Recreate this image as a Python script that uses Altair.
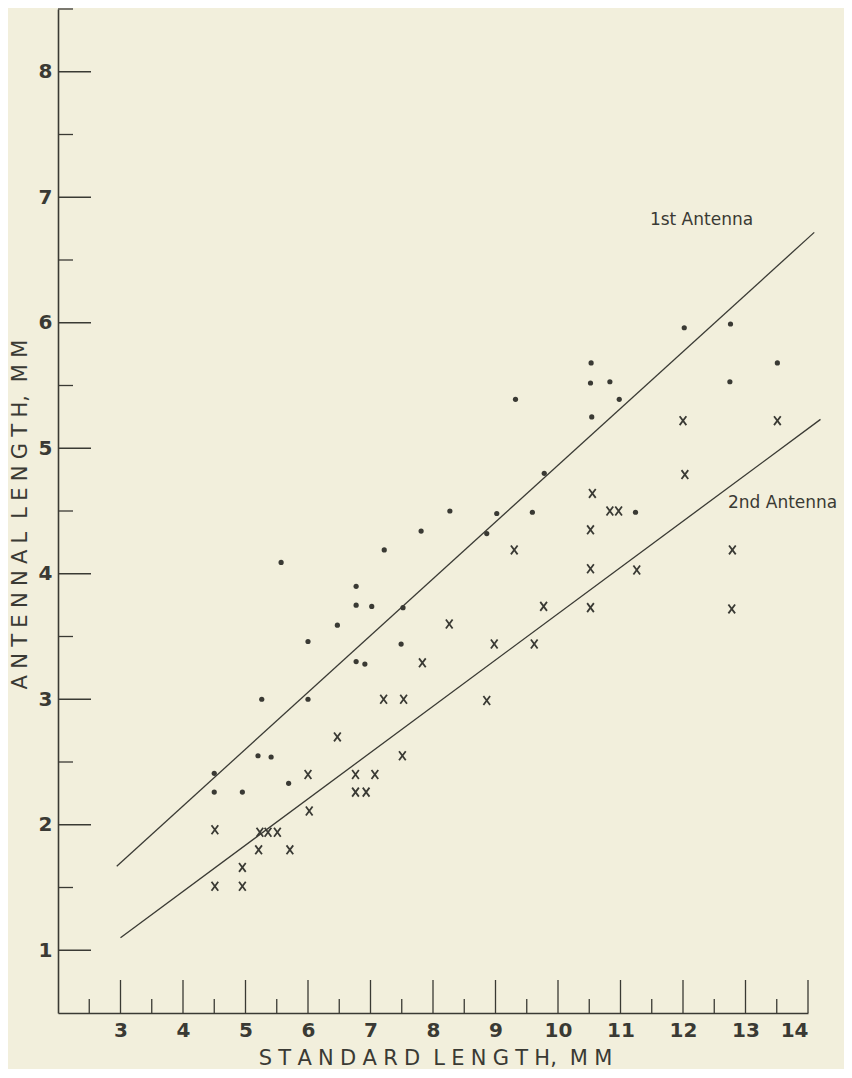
import altair as alt
import pandas as pd

# ---- data ----
x_major = [3, 4, 5, 6, 7, 8, 9, 10, 11, 12, 13, 14]
x_minor = [2.5, 3.5, 4.5, 5.5, 6.5, 7.5, 8.5, 9.5, 10.5, 11.5, 12.5, 13.5]
y_major = [1, 2, 3, 4, 5, 6, 7, 8]
y_minor = [1.5, 2.5, 3.5, 4.5, 5.5, 6.5, 7.5, 8.5]

first_sl = [4.50, 4.50, 4.95, 5.20, 5.26, 5.41, 5.57, 5.69, 6.00, 6.00, 6.47, 6.77,
            6.77, 6.77, 6.91, 7.02, 7.22, 7.49, 7.52, 7.81, 8.27, 8.86, 9.02, 9.32,
            9.59, 9.78, 10.52, 10.53, 10.54, 10.83, 10.98, 11.24, 12.02, 12.75, 12.76, 13.51]
first_al = [2.41, 2.26, 2.26, 2.55, 3.00, 2.54, 4.09, 2.33, 3.46, 3.00, 3.59, 3.90,
            3.75, 3.30, 3.28, 3.74, 4.19, 3.44, 3.73, 4.34, 4.50, 4.32, 4.48, 5.39,
            4.49, 4.80, 5.52, 5.68, 5.25, 5.53, 5.39, 4.49, 5.96, 5.53, 5.99, 5.68]

second_sl = [4.51, 4.51, 4.95, 4.95, 5.21, 5.23, 5.36, 5.51, 5.71, 6.00, 6.02, 6.47,
             6.76, 6.76, 6.93, 7.07, 7.21, 7.51, 7.53, 7.83, 8.26, 8.86, 8.98, 9.30,
             9.62, 9.77, 10.52, 10.52, 10.52, 10.55, 10.83, 10.97, 11.26, 12.00, 12.03,
             12.78, 12.79, 13.51]
second_al = [1.51, 1.96, 1.51, 1.66, 1.80, 1.94, 1.94, 1.94, 1.80, 2.40, 2.11, 2.70,
             2.40, 2.26, 2.26, 2.40, 3.00, 2.55, 3.00, 3.29, 3.60, 2.99, 3.44, 4.19,
             3.44, 3.74, 3.73, 4.04, 4.35, 4.64, 4.50, 4.50, 4.03, 5.22, 4.79,
             3.72, 4.19, 5.22]

line1_sl = [2.94, 14.10]
line1_al = [1.67, 6.72]
line2_sl = [3.00, 14.20]
line2_al = [1.10, 5.23]

label_text = ["1st Antenna", "2nd Antenna"]
label_sl = [11.47, 12.72]
label_al = [6.82, 4.56]

x_title = "STANDARD LENGTH, MM"
y_title = "ANTENNAL LENGTH, MM"

# ---- styling ----
INK = "#3a3a34"
BG = "#f2efdc"
W, H = 750, 1004


def spaced(s):
    gap = "\u2009\u200a"
    words = []
    for w in s.split(" "):
        out = ""
        for i, ch in enumerate(w):
            if i > 0 and ch != ",":
                out += gap
            out += ch
        words.append(out)
    return (" " + gap).join(words)


xs = alt.Scale(domain=[2, 14], nice=False, zero=False)
ys = alt.Scale(domain=[0.5, 8.5], nice=False, zero=False)

x_axis = alt.Axis(values=x_major, title=spaced(x_title), grid=False, ticks=False, tickSize=0,
                  domainColor=INK, domainWidth=1.6, labelColor=INK, labelFontSize=20,
                  labelFontWeight="bold", labelFont="DejaVu Sans", labelPadding=17,
                  labelBaseline="middle", titleFont="DejaVu Sans", titleFontSize=21,
                  titleFontWeight="normal", titleColor=INK, titleX=377, titleY=45,
                  titleBaseline="middle", titleAlign="center")
y_axis = alt.Axis(values=y_major, title=spaced(y_title), grid=False, ticks=False, tickSize=0,
                  domainColor=INK, domainWidth=1.6, labelColor=INK, labelFontSize=20,
                  labelFontWeight="bold", labelFont="DejaVu Sans", labelPadding=6,
                  titleFont="DejaVu Sans", titleFontSize=21, titleFontWeight="normal",
                  titleColor=INK, titleX=-38, titleY=505, titleBaseline="middle",
                  titleAlign="center", titleAngle=270)

X = alt.X("sl:Q", scale=xs, axis=x_axis)
Y = alt.Y("al:Q", scale=ys, axis=y_axis)

dots = pd.DataFrame({"sl": first_sl, "al": first_al})
crosses = pd.DataFrame({"sl": second_sl, "al": second_al})
l1 = pd.DataFrame({"sl": line1_sl, "al": line1_al})
l2 = pd.DataFrame({"sl": line2_sl, "al": line2_al})
labels = pd.DataFrame({"sl": label_sl, "al": label_al, "t": label_text})

xmaj = alt.Chart(pd.DataFrame({"sl": x_major})).mark_rule(color=INK, strokeWidth=1.3).encode(
    x=X, y=alt.value(H), y2=alt.value(H - 33))
xmin = alt.Chart(pd.DataFrame({"sl": x_minor})).mark_rule(color=INK, strokeWidth=1.3).encode(
    x=X, y=alt.value(H), y2=alt.value(H - 14))
ymaj = alt.Chart(pd.DataFrame({"al": y_major})).mark_rule(color=INK, strokeWidth=1.3).encode(
    y=Y, x=alt.value(0), x2=alt.value(33))
ymin = alt.Chart(pd.DataFrame({"al": y_minor})).mark_rule(color=INK, strokeWidth=1.3).encode(
    y=Y, x=alt.value(0), x2=alt.value(15))

line_a = alt.Chart(l1).mark_line(color=INK, strokeWidth=1.3).encode(x=X, y=Y)
line_b = alt.Chart(l2).mark_line(color=INK, strokeWidth=1.3).encode(x=X, y=Y)

pts = alt.Chart(dots).mark_point(filled=True, shape="circle", size=27, color=INK, opacity=1).encode(x=X, y=Y)
xs_mark = alt.Chart(crosses).mark_point(
    shape="M-0.75,-1L0.75,1M0.75,-1L-0.75,1", filled=False, size=80, color=INK,
    strokeWidth=1.8, opacity=1).encode(x=X, y=Y)

txt = alt.Chart(labels).mark_text(align="left", baseline="middle", fontSize=17,
                                  font="DejaVu Sans", color=INK).encode(x=X, y=Y, text="t:N")

chart = alt.layer(xmaj, xmin, ymaj, ymin, line_a, line_b, pts, xs_mark, txt).properties(
    width=W, height=H,
    autosize=alt.AutoSizeParams(type="none"),
    padding={"left": 50, "top": 1, "right": 36, "bottom": 56},
    background=BG,
).configure_view(strokeWidth=0)

chart.save("out.html", embed_options={"renderer": "svg", "actions": False})
